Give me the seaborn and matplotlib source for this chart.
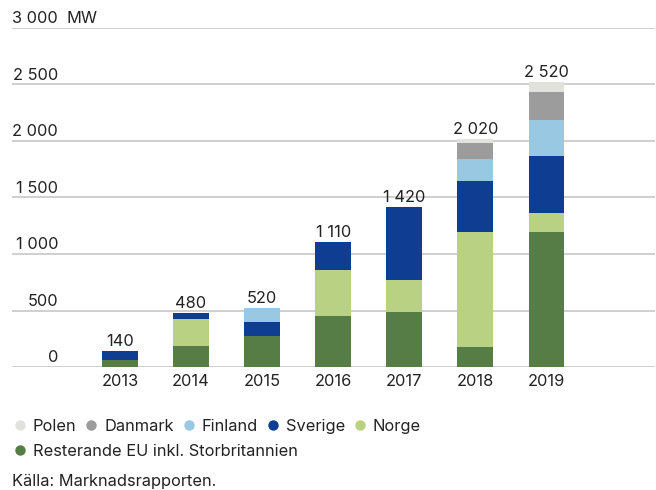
import matplotlib
matplotlib.use("Agg")
import matplotlib.pyplot as plt
from matplotlib.lines import Line2D
import seaborn as sns
import pandas as pd
import numpy as np

years = ["2013", "2014", "2015", "2016", "2017", "2018", "2019"]
resterande_eu = [60, 185, 275, 450, 485, 175, 1195]
norge = [0, 240, 0, 410, 285, 1020, 170]
sverige = [80, 55, 125, 250, 650, 450, 505]
finland = [0, 0, 120, 0, 0, 195, 320]
danmark = [0, 0, 0, 0, 0, 140, 240]
polen = [0, 0, 0, 0, 0, 40, 90]
totals = [140, 480, 520, 1110, 1420, 2020, 2520]

series_names = ["Resterande EU inkl. Storbritannien", "Norge", "Sverige", "Finland", "Danmark", "Polen"]
series_vals = [resterande_eu, norge, sverige, finland, danmark, polen]
colors = ["#567d46", "#b9d183", "#0e3d91", "#99c8e3", "#9c9c9c", "#e1e2dc"]

yticks = [0, 500, 1000, 1500, 2000, 2500, 3000]
ytick_labels = ["0", "500", "1 000", "1 500", "2 000", "2 500", "3 000"]

sns.set_theme(style="white")
plt.rcParams["font.family"] = ["Inter", "DejaVu Sans"]
FS = 11.8
TXT = "#222222"

fig = plt.figure(figsize=(6.56, 4.90), dpi=100)
ax = fig.add_axes([12/656, 1-367/490, 643/656, (367-28)/490])

cum = np.zeros(len(years))
cums = []
for vals in series_vals:
    cum = cum + np.array(vals)
    cums.append(cum.copy())

for i in reversed(range(len(series_names))):
    d = pd.DataFrame({"year": years, "val": cums[i]})
    sns.barplot(data=d, x="year", y="val", order=years, color=colors[i],
                width=0.5, ax=ax, saturation=1, errorbar=None, linewidth=0,
                edgecolor="none")

ax.set_xlim(-1.52, 7.53)
ax.set_ylim(0, 3000)
ax.set_yticks(yticks)
ax.set_yticklabels([])
ax.tick_params(axis="y", length=0)
ax.tick_params(axis="x", length=0, labelsize=FS, labelcolor=TXT, pad=5)
ax.set_xlabel("")
ax.set_ylabel("")
ax.grid(axis="y", color="#cfcfcf", linewidth=1.4)
ax.set_axisbelow(True)
for s in ax.spines.values():
    s.set_visible(False)

trans = matplotlib.transforms.blended_transform_factory(ax.transAxes, ax.transData)
xr = (58-12)/643
for v, lab in zip(yticks, ytick_labels):
    ax.text(xr, v + 40, lab, transform=trans, ha="right", va="baseline",
            fontsize=FS, color=TXT)
ax.text((66-12)/643, 3000 + 40, "MW", transform=trans, ha="left", va="baseline",
        fontsize=FS, color=TXT)

for i, t in enumerate(totals):
    s = f"{t:,}".replace(",", " ")
    ax.annotate(s, (i, t), xytext=(0, 3.5), textcoords="offset points",
                ha="center", va="baseline", fontsize=FS, color=TXT)

order_leg = [5, 4, 3, 2, 1]
handles = [Line2D([], [], marker="o", linestyle="none", markersize=7.5,
                  markerfacecolor=colors[k], markeredgecolor="none") for k in order_leg]
leg1 = fig.legend(handles, [series_names[k] for k in order_leg], ncol=5,
                  loc="upper left", bbox_to_anchor=(5/656, 1-414/490),
                  frameon=False, fontsize=FS, handletextpad=0.2,
                  columnspacing=0.3, handlelength=1.2, borderaxespad=0,
                  borderpad=0.3)
for t in leg1.get_texts():
    t.set_color(TXT)
h2 = [Line2D([], [], marker="o", linestyle="none", markersize=7.5,
             markerfacecolor=colors[0], markeredgecolor="none")]
leg2 = fig.legend(h2, [series_names[0]], loc="upper left",
                  bbox_to_anchor=(5/656, 1-439/490), frameon=False, fontsize=FS,
                  handletextpad=0.2, handlelength=1.2, borderaxespad=0,
                  borderpad=0.3)
for t in leg2.get_texts():
    t.set_color(TXT)

fig.text(12/656, 1-481/490, "Källa: Marknadsrapporten.", ha="left", va="center",
         fontsize=FS, color=TXT)

fig.savefig("out.png", dpi=100)
